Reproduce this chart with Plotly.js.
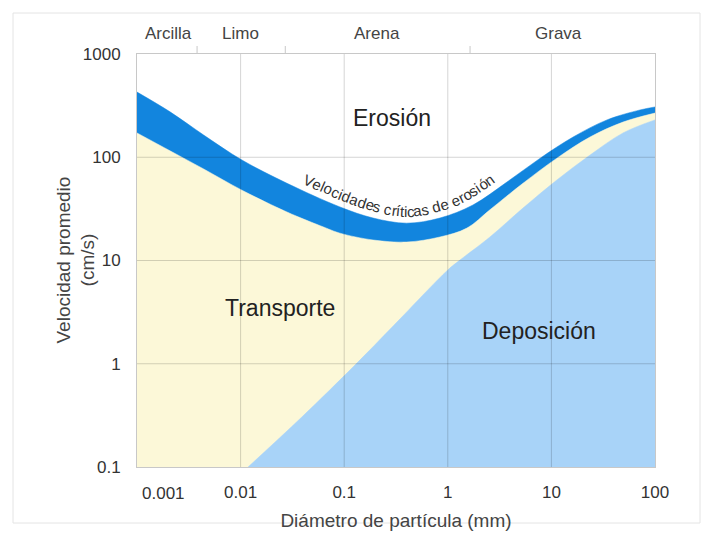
<!DOCTYPE html>
<html><head><meta charset="utf-8">
<script src="https://cdn.plot.ly/plotly-3.0.1.min.js"></script>
<style>html,body{margin:0;padding:0;background:#fff}</style>
</head><body><div id="chart" style="width:706px;height:538px"></div>
<script>
// ---- data ----
const diamErosionTop = [0.001, 0.0021, 0.0044, 0.0103, 0.028, 0.091, 0.19, 0.40, 0.84, 1.75, 3.72, 7.8, 16.2, 34.4, 71.6, 100];
const velErosionTop  = [428, 274, 164, 94, 56, 33, 25.8, 23, 25.8, 34.5, 57.5, 98, 157, 230, 287, 307];
const diamErosionBottom = [0.001, 0.0021, 0.0044, 0.0103, 0.028, 0.064, 0.091, 0.19, 0.40, 0.84, 1.53, 2.55, 5.32, 11.3, 23.6, 49.1, 100];
const velErosionBottom  = [172, 115, 77, 48, 29.5, 21, 18.4, 15.8, 15.1, 16.9, 20.6, 31, 56, 98, 157, 219, 268];
const diamDeposition = [0.0118, 0.039, 0.127, 0.303, 1.0, 1.31, 2.55, 5.32, 11.3, 23.6, 49.1, 100];
const velDeposition  = [0.1, 0.305, 0.97, 2.37, 8.1, 10.1, 16.9, 32.2, 60.3, 105, 172, 230];

const xTickVals = [0.01, 0.1, 1, 10, 100];
const xTickText = ['0.01', '0.1', '1', '10', '100'];
const xFirstTickText = '0.001';
const yTickVals = [0.1, 1, 10, 100, 1000];
const yTickText = ['0.1', '1', '10', '100', '1000'];

const sizeClasses = ['Arcilla', 'Limo', 'Arena', 'Grava'];
const sizeClassCenters = [0.0020, 0.0099, 0.207, 11.6];
const sizeClassBounds = [0.0038, 0.027, 1.64];

const regionLabels = ['Erosión', 'Transporte', 'Deposición'];
const regionLabelDiam = [0.289, 0.024, 7.6];
const regionLabelVel = [240, 3.47, 2.07];

const curveLabel = 'Velocidades críticas de erosión';
const xTitle = 'Diámetro de partícula (mm)';
const yTitle = 'Velocidad promedio<br>(cm/s)';

// ---- layout constants ----
const FW = 706, FH = 538;
const M = {l: 137, r: 51, t: 54, b: 71};
const W = FW - M.l - M.r, H = FH - M.t - M.b;
const XR = [-3, 2], YR = [-1, 3];
const FONT = 'Liberation Sans, Arial, sans-serif';

const cYellow = 'rgb(252,248,216)';
const cBand = 'rgb(18,133,222)';
const cLight = 'rgb(168,211,248)';
const SM = 1.0;

const baseX = [Math.pow(10, XR[0]), Math.pow(10, XR[1])];
const baseY = [Math.pow(10, YR[0]), Math.pow(10, YR[0])];

const traces = [
  {x: baseX, y: baseY, mode: 'lines', line: {width: 0}, hoverinfo: 'skip', showlegend: false},
  {x: diamErosionBottom, y: velErosionBottom, mode: 'lines', fill: 'tonexty', fillcolor: cYellow,
   line: {width: 0.5, color: cYellow, shape: 'spline', smoothing: SM}, hoverinfo: 'skip', showlegend: false},
  {x: diamErosionTop, y: velErosionTop, mode: 'lines', fill: 'tonexty', fillcolor: cBand,
   line: {width: 0.5, color: cBand, shape: 'spline', smoothing: SM}, hoverinfo: 'skip', showlegend: false},
  {x: baseX, y: baseY, mode: 'lines', line: {width: 0}, hoverinfo: 'skip', showlegend: false},
  {x: diamDeposition, y: velDeposition, mode: 'lines', fill: 'tonexty', fillcolor: cLight,
   line: {width: 0.5, color: cLight, shape: 'spline', smoothing: SM}, hoverinfo: 'skip', showlegend: false}
];

const annotations = [];
const shapes = [];
const xPaper = d => (Math.log10(d) - XR[0]) / (XR[1] - XR[0]);
const yPaper = v => (Math.log10(v) - YR[0]) / (YR[1] - YR[0]);

// grid lines drawn over the coloured areas
const grid = 'rgba(0,0,0,0.17)';
xTickVals.forEach(d => {
  const xp = xPaper(d);
  if (xp > 0 && xp < 1) shapes.push({type: 'line', xref: 'paper', yref: 'paper', x0: xp, x1: xp, y0: 0, y1: 1,
    line: {color: grid, width: 1}, layer: 'above'});
});
yTickVals.forEach(v => {
  const yp = yPaper(v);
  if (yp > 0 && yp < 1) shapes.push({type: 'line', xref: 'paper', yref: 'paper', x0: 0, x1: 1, y0: yp, y1: yp,
    line: {color: grid, width: 1}, layer: 'above'});
});

// first x tick label (drawn inside the left edge)
annotations.push({xref: 'paper', yref: 'paper', x: 0.006, y: 0, xanchor: 'left', yanchor: 'middle', yshift: -26,
  text: xFirstTickText, showarrow: false, font: {family: FONT, size: 17, color: '#333'}});

// y axis title
annotations.push({xref: 'paper', yref: 'paper', x: (75 - M.l) / W, y: 0.5, xanchor: 'center', yanchor: 'middle',
  text: yTitle, textangle: -90, showarrow: false, font: {family: FONT, size: 19, color: '#444'}});

// size class labels on top
sizeClasses.forEach((s, i) => {
  annotations.push({xref: 'paper', yref: 'paper', x: xPaper(sizeClassCenters[i]), y: 1,
    xanchor: 'center', yanchor: 'middle', yshift: 21, text: s, showarrow: false,
    font: {family: FONT, size: 17, color: '#444'}});
});
sizeClassBounds.forEach(b => {
  const xp = xPaper(b);
  shapes.push({type: 'line', xref: 'paper', yref: 'paper', ysizemode: 'pixel', yanchor: 1, x0: xp, x1: xp, y0: 0, y1: 8,
    line: {color: '#c8c8c8', width: 1}});
});

// region labels
regionLabels.forEach((s, i) => {
  annotations.push({x: Math.log10(regionLabelDiam[i]), y: Math.log10(regionLabelVel[i]), text: s, showarrow: false,
    xanchor: 'center', yanchor: 'middle', font: {family: FONT, size: 23, color: '#222'}});
});

// curved label along the upper edge of the band
(function () {
  const toPx = (d, v) => [M.l + xPaper(d) * W, M.t + (1 - yPaper(v)) * H];
  const pts = diamErosionTop.map((d, i) => toPx(d, velErosionTop[i]));
  const dense = [];
  for (let i = 0; i < pts.length - 1; i++) {
    const p0 = pts[Math.max(i - 1, 0)], p1 = pts[i], p2 = pts[i + 1], p3 = pts[Math.min(i + 2, pts.length - 1)];
    for (let k = 0; k < 24; k++) {
      const t = k / 24, t2 = t * t, t3 = t2 * t;
      const f = (a, b, c, d) => 0.5 * ((2 * b) + (-a + c) * t + (2 * a - 5 * b + 4 * c - d) * t2 + (-a + 3 * b - 3 * c + d) * t3);
      dense.push([f(p0[0], p1[0], p2[0], p3[0]), f(p0[1], p1[1], p2[1], p3[1])]);
    }
  }
  dense.push(pts[pts.length - 1]);
  const cum = [0];
  for (let i = 1; i < dense.length; i++) cum.push(cum[i - 1] + Math.hypot(dense[i][0] - dense[i - 1][0], dense[i][1] - dense[i - 1][1]));
  const at = s => {
    let i = 1;
    while (i < cum.length - 1 && cum[i] < s) i++;
    const f = (s - cum[i - 1]) / ((cum[i] - cum[i - 1]) || 1);
    return [dense[i - 1][0] + f * (dense[i][0] - dense[i - 1][0]), dense[i - 1][1] + f * (dense[i][1] - dense[i - 1][1])];
  };
  const sAtX = x => {
    for (let i = 1; i < dense.length; i++) if (dense[i][0] >= x) {
      const f = (x - dense[i - 1][0]) / ((dense[i][0] - dense[i - 1][0]) || 1);
      return cum[i - 1] + f * (cum[i] - cum[i - 1]);
    }
    return cum[cum.length - 1];
  };
  const fs = 15;
  const ctx = document.createElement('canvas').getContext('2d');
  ctx.font = fs + "px 'Liberation Sans', Arial, sans-serif";
  const chars = Array.from(curveLabel);
  const widths = chars.map(c => ctx.measureText(c).width);
  const total = widths.reduce((a, b) => a + b, 0);
  const s0 = sAtX(299), s1 = sAtX(500);
  const k = (s1 - s0) / total;
  const off = 12;
  let acc = 0;
  chars.forEach((c, i) => {
    const s = s0 + k * (acc + widths[i] / 2);
    acc += widths[i];
    if (c === ' ') return;
    const p = at(s), a = at(s - 6), b = at(s + 6);
    let tx = b[0] - a[0], ty = b[1] - a[1];
    const n = Math.hypot(tx, ty) || 1; tx /= n; ty /= n;
    const x = p[0] + ty * off, y = p[1] - tx * off;
    annotations.push({xref: 'paper', yref: 'paper', x: (x - M.l) / W, y: 1 - (y - M.t) / H,
      xanchor: 'center', yanchor: 'middle', text: c, showarrow: false,
      textangle: Math.atan2(ty, tx) * 180 / Math.PI, font: {family: FONT, size: fs, color: '#333'}});
  });
})();

// faint outer frame
shapes.push({type: 'rect', xref: 'paper', yref: 'paper',
  x0: (13 - M.l) / W, x1: (700 - M.l) / W, y0: 1 - (523 - M.t) / H, y1: 1 - (13 - M.t) / H,
  line: {color: '#e4e4e4', width: 1}, layer: 'below'});

const layout = {
  width: FW, height: FH,
  margin: M,
  paper_bgcolor: '#fff', plot_bgcolor: '#fff',
  showlegend: false,
  font: {family: FONT, color: '#333'},
  xaxis: {type: 'log', range: XR, tickvals: xTickVals, ticktext: xTickText, ticks: '',
    showgrid: false, zeroline: false,
    showline: true, mirror: true, linecolor: '#c8c8c8', linewidth: 1, layer: 'above traces',
    tickfont: {family: FONT, size: 17, color: '#333'}, ticklabelstandoff: 10,
    title: {text: xTitle, font: {family: FONT, size: 19, color: '#444'}, standoff: 12}},
  yaxis: {type: 'log', range: YR, tickvals: yTickVals, ticktext: yTickText, ticks: '',
    showgrid: false, zeroline: false,
    showline: true, mirror: true, linecolor: '#c8c8c8', linewidth: 1, layer: 'above traces',
    tickfont: {family: FONT, size: 17, color: '#333'}, ticklabelstandoff: 12,
    title: {text: ''}},
  annotations: annotations,
  shapes: shapes
};

Plotly.newPlot('chart', traces, layout, {staticPlot: true, displayModeBar: false});
</script>
</body></html>
